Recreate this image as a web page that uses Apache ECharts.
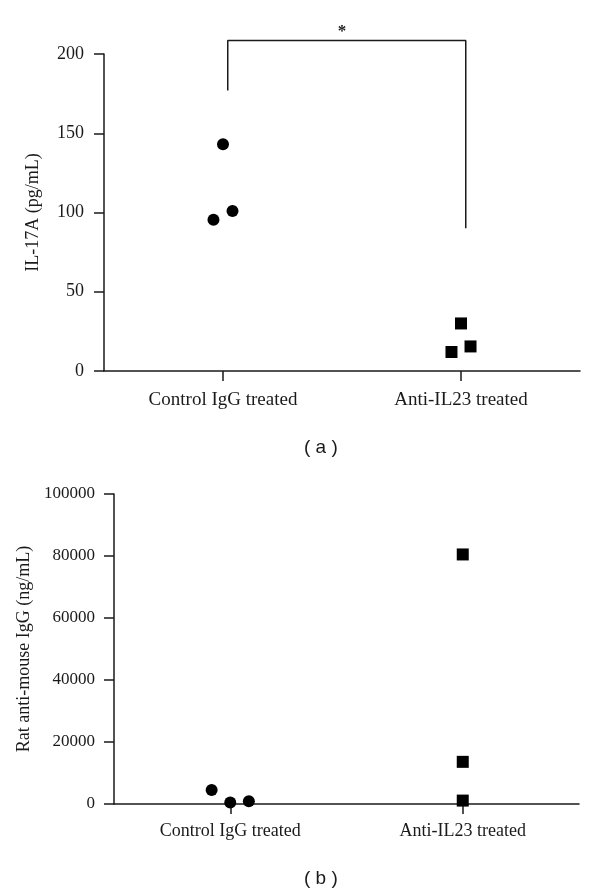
<!DOCTYPE html>
<html><head><meta charset="utf-8">
<script src="https://cdn.jsdelivr.net/npm/echarts@6/dist/echarts.min.js"></script>
<style>html,body{margin:0;padding:0;background:#fff}#c{width:600px;height:895px}</style>
</head><body><div id="c"></div>
<script>
// ---- data ----
const categories = ['Control IgG treated', 'Anti-IL23 treated'];
// Panel (a): IL-17A (pg/mL); x = category index + small jitter
const aControl = [[0.00, 143], [-0.04, 95.5], [0.04, 101]];
const aAnti = [[1.00, 30], [0.96, 12], [1.04, 15.5]];
const aBracket = [[0.02, 177], [0.02, 208.5], [1.02, 208.5], [1.02, 90]];
const aStar = [[0.5, 208.5]];
const aMax = 200, aStep = 50;
// Panel (b): Rat anti-mouse IgG (ng/mL)
const bControl = [[-0.08, 4500], [0.00, 500], [0.08, 900]];
const bAnti = [[1.00, 80500], [1.00, 13600], [1.00, 1100]];
const bMax = 100000, bStep = 20000;

const serif = 'Liberation Serif';
const ink = '#1a1a1a';
const axisLine = { show: true, onZero: false, lineStyle: { color: ink, width: 1.5 } };
const axisTick = { show: true, length: 10, lineStyle: { color: ink, width: 1.5 } };
const lbl = { color: ink, fontFamily: serif, fontSize: 18 };
const dot = { color: '#000', opacity: 1 };

const chart = echarts.init(document.getElementById('c'), null, { renderer: 'canvas' });
chart.setOption({
  animation: false,
  backgroundColor: '#fff',
  grid: [
    { left: 104, top: 54, right: 20, height: 317 },
    { left: 114, top: 494, right: 21, height: 310 }
  ],
  xAxis: [
    { type: 'category', gridIndex: 0, data: categories, boundaryGap: true,
      axisLine, axisTick: Object.assign({ alignWithLabel: true }, axisTick),
      axisLabel: Object.assign({ margin: 20 }, lbl, { fontSize: 19 }), splitLine: { show: false } },
    { type: 'value', gridIndex: 0, min: -0.5, max: 1.5, show: false },
    { type: 'category', gridIndex: 1, data: categories, boundaryGap: true,
      axisLine, axisTick: Object.assign({ alignWithLabel: true }, axisTick),
      axisLabel: Object.assign({ margin: 18 }, lbl), splitLine: { show: false } },
    { type: 'value', gridIndex: 1, min: -0.5, max: 1.5, show: false }
  ],
  yAxis: [
    { type: 'value', gridIndex: 0, min: 0, max: aMax, interval: aStep,
      name: 'IL-17A (pg/mL)', nameLocation: 'middle', nameGap: 62,
      nameTextStyle: Object.assign({}, lbl),
      axisLine, axisTick, axisLabel: Object.assign({ margin: 20 }, lbl), splitLine: { show: false } },
    { type: 'value', gridIndex: 1, min: 0, max: bMax, interval: bStep,
      name: 'Rat anti-mouse IgG (ng/mL)', nameLocation: 'middle', nameGap: 72,
      nameTextStyle: Object.assign({}, lbl),
      axisLine, axisTick,
      axisLabel: Object.assign({ margin: 19, formatter: v => String(v) }, lbl, { fontSize: 17 }),
      splitLine: { show: false } }
  ],
  graphic: [
    { type: 'text', left: 304, top: 438, style: { text: '( a )', font: '19px "Liberation Sans"', fill: ink } },
    { type: 'text', left: 304, top: 869, style: { text: '( b )', font: '19px "Liberation Sans"', fill: ink } }
  ],
  series: [
    { type: 'scatter', xAxisIndex: 1, yAxisIndex: 0, data: aControl, symbol: 'circle', symbolSize: 12,
      itemStyle: dot, z: 5 },
    { type: 'scatter', xAxisIndex: 1, yAxisIndex: 0, data: aAnti, symbol: 'rect', symbolSize: 12,
      itemStyle: dot, z: 5 },
    { type: 'line', xAxisIndex: 1, yAxisIndex: 0, data: aBracket, symbol: 'none',
      lineStyle: { color: ink, width: 1.5 }, clip: false, z: 4 },
    { type: 'scatter', xAxisIndex: 1, yAxisIndex: 0, data: aStar, symbolSize: 1,
      itemStyle: { color: 'rgba(0,0,0,0)', opacity: 1 },
      label: { show: true, position: 'top', distance: 0, formatter: '*', fontFamily: serif,
        fontSize: 17, fontWeight: 'bold', color: ink },
      clip: false, z: 6 },
    { type: 'scatter', xAxisIndex: 3, yAxisIndex: 1, data: bControl, symbol: 'circle', symbolSize: 12,
      itemStyle: dot, z: 5, clip: false },
    { type: 'scatter', xAxisIndex: 3, yAxisIndex: 1, data: bAnti, symbol: 'rect', symbolSize: 12,
      itemStyle: dot, z: 5, clip: false }
  ]
});
</script>
</body></html>
